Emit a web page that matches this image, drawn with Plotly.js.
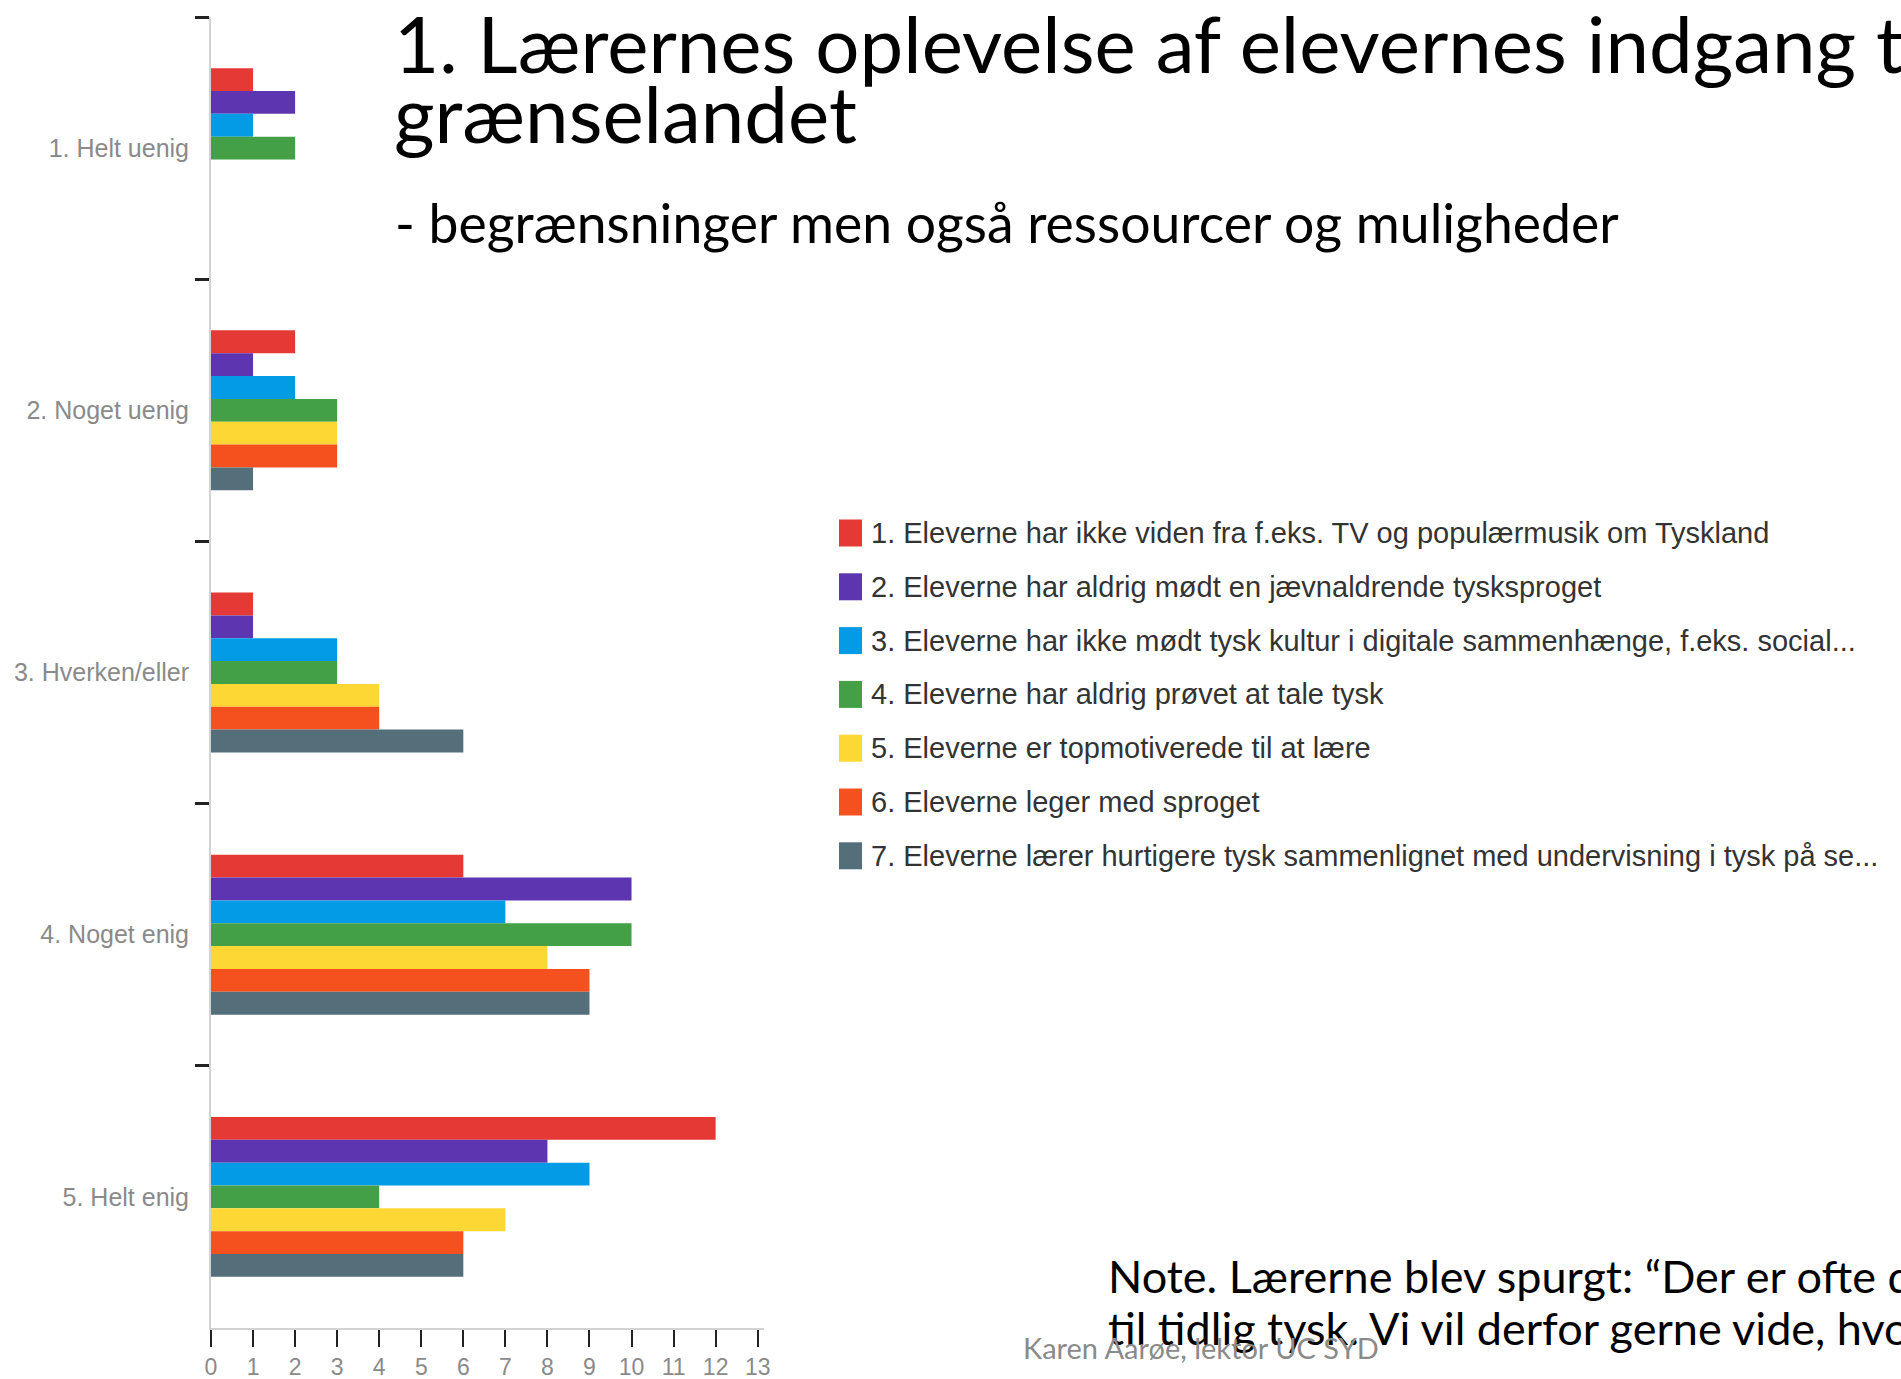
<!DOCTYPE html>
<html>
<head>
<meta charset="utf-8">
<script src="https://cdn.plot.ly/plotly-3.0.1.min.js"></script>
<style>
  html, body { margin: 0; padding: 0; background: #ffffff; }
  #chart { width: 1901px; height: 1379px; }
</style>
</head>
<body>
<div id="chart"></div>
<script>
// ---- Data ----
const categories = ["1. Helt uenig", "2. Noget uenig", "3. Hverken/eller", "4. Noget enig", "5. Helt enig"];
const seriesNames = [
  "1. Eleverne har ikke viden fra f.eks. TV og populærmusik om Tyskland",
  "2. Eleverne har aldrig mødt en jævnaldrende tysksproget",
  "3. Eleverne har ikke mødt tysk kultur i digitale sammenhænge, f.eks. social...",
  "4. Eleverne har aldrig prøvet at tale tysk",
  "5. Eleverne er topmotiverede til at lære",
  "6. Eleverne leger med sproget",
  "7. Eleverne lærer hurtigere tysk sammenlignet med undervisning i tysk på se..."
];
const series1 = [1, 2, 1, 6, 12];
const series2 = [2, 1, 1, 10, 8];
const series3 = [1, 2, 3, 7, 9];
const series4 = [2, 3, 3, 10, 4];
const series5 = [0, 3, 4, 8, 7];
const series6 = [0, 3, 4, 9, 6];
const series7 = [0, 1, 6, 9, 6];
const seriesValues = [series1, series2, series3, series4, series5, series6, series7];
const seriesColors = ["#E53935", "#5E35B1", "#039BE5", "#43A047", "#FDD835", "#F4511E", "#546E7A"];
const xTickValues = [0, 1, 2, 3, 4, 5, 6, 7, 8, 9, 10, 11, 12, 13];

const titleLine1 = "1. Lærernes oplevelse af elevernes indgang til";
const titleLine2 = "grænselandet";
const subtitleText = "- begrænsninger men også ressourcer og muligheder";
const noteLine1 = "Note. Lærerne blev spurgt: “Der er ofte d";
const noteLine2 = "til tidlig tysk. Vi vil derfor gerne vide, hvo";
const footerText = "Karen Aarøe, lektor UC SYD";

// ---- Geometry (page pixels) ----
const W = 1901, H = 1379;
const M = { l: 211, r: 1137, t: 17, b: 51 };
const plotW = W - M.l - M.r;
const plotH = H - M.t - M.b;
const px = x => (x - M.l) / plotW;
const py = y => (H - M.b - y) / plotH;

const chartFont = "'Liberation Sans', Arial, sans-serif";
const slideFont = "Lato, 'Open Sans', sans-serif";

const traces = seriesValues.map((vals, i) => ({
  type: "bar",
  orientation: "h",
  name: seriesNames[i],
  y: categories,
  x: vals,
  marker: { color: seriesColors[i], line: { width: 0 } },
  hoverinfo: "x+name"
}));

const shapes = [];
const annotations = [];

// Legend (drawn as swatches + labels)
const legendTop = 533, legendStep = 53.8;
seriesNames.forEach((name, i) => {
  const cy = legendTop + i * legendStep;
  shapes.push({
    type: "rect", xref: "paper", yref: "paper",
    x0: px(839), x1: px(862), y0: py(cy + 13.5), y1: py(cy - 13.5),
    fillcolor: seriesColors[i], line: { width: 0 }
  });
  annotations.push({
    xref: "paper", yref: "paper", x: px(869), y: py(cy),
    xanchor: "left", yanchor: "middle", showarrow: false,
    text: name,
    font: { family: chartFont, size: 29, color: "#333333" }
  });
});

// Slide texts
annotations.push(
  { xref: "paper", yref: "paper", x: px(392), y: py(43), xanchor: "left", yanchor: "middle", showarrow: false,
    text: titleLine1, font: { family: slideFont, size: 78, color: "#000000" } },
  { xref: "paper", yref: "paper", x: px(392), y: py(113), xanchor: "left", yanchor: "middle", showarrow: false,
    text: titleLine2, font: { family: slideFont, size: 78, color: "#000000" } },
  { xref: "paper", yref: "paper", x: px(393), y: py(222), xanchor: "left", yanchor: "middle", showarrow: false,
    text: subtitleText, font: { family: slideFont, size: 53.5, color: "#000000" } },
  { xref: "paper", yref: "paper", x: px(1106), y: py(1276), xanchor: "left", yanchor: "middle", showarrow: false,
    text: noteLine1, font: { family: slideFont, size: 45, color: "#000000" } },
  { xref: "paper", yref: "paper", x: px(1106), y: py(1328), xanchor: "left", yanchor: "middle", showarrow: false,
    text: noteLine2, font: { family: slideFont, size: 45, color: "#000000" } },
  { xref: "paper", yref: "paper", x: px(1021), y: py(1347), xanchor: "left", yanchor: "middle", showarrow: false,
    text: footerText, font: { family: slideFont, size: 29, color: "#8a8a8a" } }
);

const layout = {
  width: W, height: H,
  margin: { l: M.l, r: M.r, t: M.t, b: M.b, pad: 0 },
  paper_bgcolor: "#ffffff", plot_bgcolor: "#ffffff",
  showlegend: false,
  barmode: "group", bargap: 0.39, bargroupgap: 0,
  xaxis: {
    range: [0, 13.15], tickvals: xTickValues,
    ticks: "outside", ticklen: 17, tickwidth: 2, tickcolor: "#222222",
    showline: true, linecolor: "#d2d2d2", linewidth: 2,
    showgrid: false, zeroline: false,
    tickfont: { family: chartFont, size: 23, color: "#8a8a8a" },
    ticklabelstandoff: 0
  },
  yaxis: {
    type: "category", categoryorder: "array", categoryarray: categories,
    autorange: "reversed", tickson: "boundaries",
    ticks: "outside", ticklen: 14, tickwidth: 3, tickcolor: "#222222",
    showline: true, linecolor: "#d2d2d2", linewidth: 2,
    showgrid: false, zeroline: false,
    tickfont: { family: chartFont, size: 25, color: "#8a8a8a" },
    ticklabelstandoff: 15
  },
  shapes: shapes,
  annotations: annotations
};

Plotly.newPlot("chart", traces, layout, { displayModeBar: false, staticPlot: true });
</script>
</body>
</html>
